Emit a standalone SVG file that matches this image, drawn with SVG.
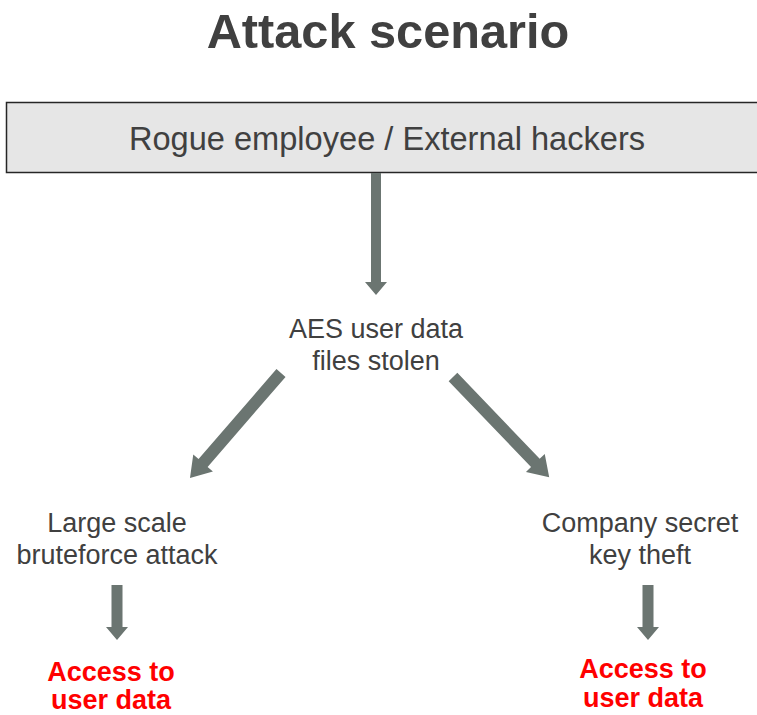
<svg xmlns="http://www.w3.org/2000/svg" width="757" height="715" viewBox="0 0 757 715">
<style>
.t{font-family:"Liberation Sans",Arial,sans-serif;fill:#404040;text-anchor:middle}
.r{font-family:"Liberation Sans",Arial,sans-serif;fill:#ff0000;font-weight:bold;text-anchor:middle;font-size:27px}
.a{fill:#6b7571}
</style>
<rect width="757" height="715" fill="#ffffff"/>
<g id="title"><text class="t" x="388" y="48" font-size="48.7" font-weight="bold">Attack scenario</text></g>
<g id="attackers">
<rect x="6.5" y="102.5" width="760" height="70" fill="#e6e6e6" stroke="#262626" stroke-width="1.5"/>
<text class="t" x="387" y="150" font-size="32.6">Rogue employee / External hackers</text>
</g>
<g id="stolen"><text class="t" x="376" y="338" font-size="27">AES user data</text><text class="t" x="376" y="370" font-size="27">files stolen</text></g>
<g id="bruteforce"><text class="t" x="117" y="532" font-size="27">Large scale</text><text class="t" x="117" y="564" font-size="27">bruteforce attack</text></g>
<g id="keytheft"><text class="t" x="640" y="532" font-size="27">Company secret</text><text class="t" x="640" y="564" font-size="27">key theft</text></g>
<g id="access1"><text class="r" x="111" y="681">Access to</text><text class="r" x="111" y="709">user data</text></g>
<g id="access2"><text class="r" x="643" y="678">Access to</text><text class="r" x="643" y="707">user data</text></g>
<g id="connectors">
<path class="a" transform="translate(376,173) rotate(90)" d="M0,-5 L109,-5 L109,-11 L122,0 L109,11 L109,5 L0,5 Z"/>
<path class="a" transform="translate(281,373) rotate(130.9)" d="M0,-6 L119,-6 L119,-13 L139,0 L119,13 L119,6 L0,6 Z"/>
<path class="a" transform="translate(453,377) rotate(46.2)" d="M0,-6 L119,-6 L119,-13 L139,0 L119,13 L119,6 L0,6 Z"/>
<path class="a" transform="translate(117,585) rotate(90)" d="M0,-5.5 L42,-5.5 L42,-11 L55,0 L42,11 L42,5.5 L0,5.5 Z"/>
<path class="a" transform="translate(648,585) rotate(90)" d="M0,-5.5 L42,-5.5 L42,-11 L55,0 L42,11 L42,5.5 L0,5.5 Z"/>
</g>
</svg>
